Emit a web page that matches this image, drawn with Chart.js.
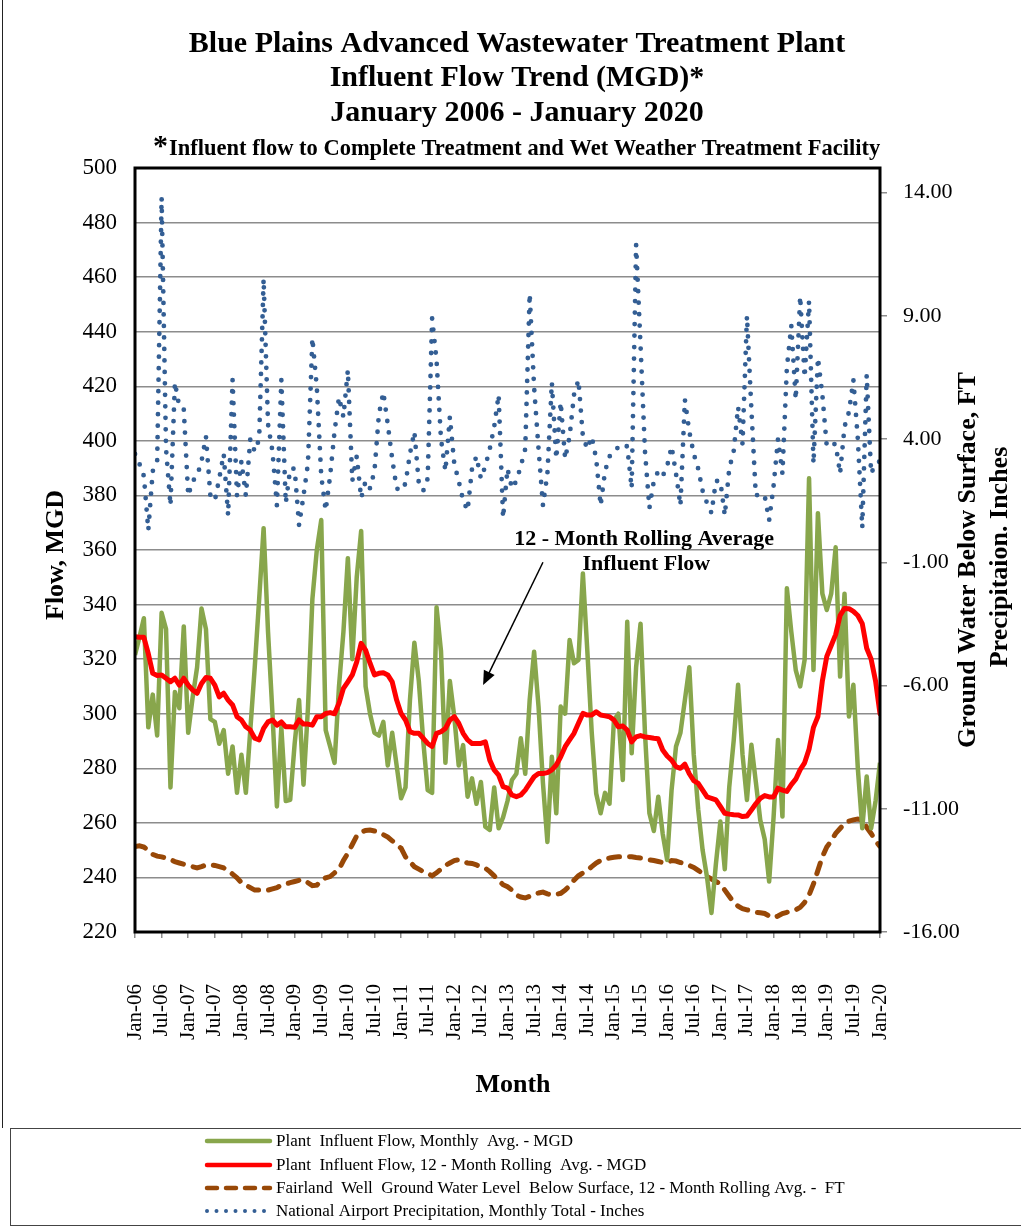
<!DOCTYPE html>
<html><head><meta charset="utf-8">
<script src="https://cdn.jsdelivr.net/npm/chart.js@4.4.1/dist/chart.umd.min.js"></script>
<style>html,body{margin:0;padding:0;background:#fff;}#wrap{width:1021px;height:1230px;}</style>
</head><body><div id="wrap"><canvas id="c" width="1021" height="1230"></canvas></div>
<script>
const xTickLabels = ['Jan-06','Jul-06','Jan-07','Jul-07','Jan-08','Jul-08','Jan-09','Jul-09','Jan-10','Jul-10','Jan-11','Jul-11','Jan-12','Jul-12','Jan-13','Jul-13','Jan-14','Jul-14','Jan-15','Jul-15','Jan-16','Jul-16','Jan-17','Jul-17','Jan-18','Jul-18','Jan-19','Jul-19','Jan-20'];
const flowTicks = [220,240,260,280,300,320,340,360,380,400,420,440,460,480,500];
const rightTicks = [-16,-11,-6,-1,4,9,14];

const flowMonthly = [321.5,328,335,295,307,292,337,331,273,308,
302,332,293,306,317,338.6,331,298,297,289,
294,278,288,271,285,271,294,317,342,368,
330,300,266,295,268,268.4,289,305,274,302,
342,360,371,294,288,282,310,330,357,320,
350,367,310,300,293,292,297,281,293,281,
269,273,305,326,312,290,272,271,339,323,
282,312,299,281,288.5,269.6,276.3,267,275,258.6,
257.4,273,258,262,268,275.7,278,291,278,305,
322.7,302.6,274.5,253,284.2,263.5,302.6,300,327,318.5,
319.7,351.4,323,293,270.8,263.5,271,267,297.7,300,
275.7,333.7,285.5,317,333,293,263.5,257,269.6,256,
246.4,272,288,293,305,317,285,265,250,240,
227,245,260.5,243,273,290,310.6,285,268.4,288.6,
275,261,254,238.5,262,290.4,262.3,346,330,316,
310,319.7,386.3,316,373.5,344,338,344,361,313.6,
344,299,310.6,280,258,277,258,268,282];

const flowRolling = [328.2,328,328,322,314.8,314,314.2,313,311.7,313,
310.5,313,310.5,308.7,307.5,311.1,313.3,313,310.5,306.2,
307.5,305,303.2,298.9,297.7,295.2,294,291,290.4,294.6,
297,297.7,295.8,297,295.2,295.2,295,297.7,296.2,296.2,
295.8,298.9,298.9,300.1,300.4,300,303.8,309.3,311.7,314.2,
319,325.8,323.3,318.5,314.2,314.8,315,314.2,311.7,305,
300.1,297.7,293.4,292.8,292.8,291,289.1,288,292.8,293.4,
294.6,297.7,298.9,296.5,292.8,290.4,289.1,289.1,289.1,289.7,
283,279.4,277.5,273.3,272.7,270.2,269.6,270.2,272,274.5,
276.9,278.1,278.1,278.4,279.4,281.2,284.2,287.9,290.4,292.8,
296.5,300.1,299.5,299.5,300.7,299.5,299.2,298.9,297.7,295.2,
295.5,294,289.7,291.5,292,291.5,291.3,291,290.8,286.7,
284.5,283,280.6,280,281.5,278,275.5,274.5,272,269.5,
269,268.4,266,263.5,263.2,263,262.9,262.3,262.5,264.7,
267,269,270,269.5,269.5,272.7,272,271.5,274,276,
279.5,282,287,295,299,312,321,325,329,336,
338.6,338.5,337.5,336,333,324,320,312,300];

const groundWater = [-12.53,-12.5,-12.55,-12.7,-12.85,-12.92,-12.95,-13.0,-13.05,-13.15,
-13.2,-13.25,-13.3,-13.35,-13.4,-13.35,-13.28,-13.27,-13.3,-13.35,
-13.4,-13.5,-13.65,-13.8,-14.0,-14.1,-14.2,-14.3,-14.3,-14.32,
-14.3,-14.25,-14.2,-14.1,-14.05,-14.0,-13.95,-13.9,-13.88,-14.0,
-14.12,-14.1,-13.9,-13.8,-13.75,-13.6,-13.45,-13.1,-12.8,-12.45,
-12.1,-11.95,-11.88,-11.86,-11.9,-11.95,-12.05,-12.15,-12.3,-12.45,
-12.6,-12.95,-13.15,-13.35,-13.45,-13.55,-13.62,-13.72,-13.6,-13.45,
-13.3,-13.2,-13.1,-13.07,-13.15,-13.2,-13.22,-13.28,-13.35,-13.41,
-13.55,-13.72,-13.9,-14.08,-14.16,-14.3,-14.5,-14.58,-14.62,-14.55,
-14.45,-14.42,-14.38,-14.45,-14.5,-14.47,-14.43,-14.3,-14.12,-13.9,
-13.72,-13.6,-13.5,-13.35,-13.2,-13.1,-13.02,-13.0,-12.97,-12.95,
-12.94,-12.94,-12.95,-12.98,-13.0,-13.05,-13.07,-13.1,-13.14,-13.18,
-13.2,-13.1,-13.12,-13.18,-13.22,-13.3,-13.38,-13.5,-13.62,-13.75,
-13.85,-13.95,-14.05,-14.3,-14.55,-14.8,-14.95,-15.05,-15.1,-15.15,
-15.2,-15.22,-15.25,-15.35,-15.42,-15.35,-15.25,-15.2,-15.15,-15.1,
-15.0,-14.8,-14.5,-14.05,-13.5,-12.95,-12.55,-12.3,-12.0,-11.8,
-11.6,-11.5,-11.45,-11.42,-11.45,-11.75,-12.0,-12.3,-12.53];

const precipitation = [3.4,3.0,2.5,0.3,2.7,3.1,13.8,3.6,1.3,6.3,
5.3,5.2,1.7,2.3,2.5,3.1,4.1,1.7,1.5,2.4,
3.4,0.9,6.4,1.7,3.1,1.7,4.0,3.5,4.0,10.5,
4.6,3.5,1.3,6.4,1.4,2.8,2.8,0.5,1.7,3.0,
8.1,6.1,2.5,1.1,2.5,4.3,5.7,4.9,6.8,2.3,
3.3,1.6,2.3,2.0,2.7,5.0,5.9,4.6,3.2,2.0,
1.9,2.2,3.4,4.3,2.2,1.9,2.4,8.9,7.2,4.0,
2.7,4.9,3.0,2.3,1.5,1.1,2.8,3.3,2.4,2.9,
3.6,4.5,5.8,0.8,2.8,2.0,2.3,2.9,3.6,9.9,
6.1,3.6,1.3,2.6,6.3,3.2,5.5,3.2,4.1,5.8,
6.4,4.1,3.6,4.1,3.2,1.3,2.7,3.3,3.4,3.7,
3.8,3.7,2.0,11.9,7.8,3.5,1.2,2.3,2.7,2.5,
2.9,3.7,2.6,1.3,5.6,4.3,3.4,2.8,1.9,1.4,
1.0,2.3,2.3,0.9,2.8,3.5,5.3,3.8,9.0,5.2,
1.7,1.8,1.7,0.7,2.1,4.0,2.6,6.9,8.6,5.6,
9.8,6.5,9.6,3.0,7.3,5.8,3.7,3.8,3.8,2.6,
4.5,5.1,6.4,4.0,0.4,6.6,2.6,3.0,3.1];

const legendLabels = [
 'Plant  Influent Flow, Monthly  Avg. - MGD',
 'Plant  Influent Flow, 12 - Month Rolling  Avg. - MGD',
 'Fairland  Well  Ground Water Level  Below Surface, 12 - Month Rolling Avg. -  FT',
 'National Airport Precipitation, Monthly Total - Inches'];

const SERIF = '"Liberation Serif","Times New Roman",serif';
const COL_GREEN = '#88A64C', COL_RED = '#FF0000', COL_BROWN = '#984807', COL_BLUE = '#335E94';
const pts = arr => arr.map((v,i)=>({x:i,y:v}));

const annotation = {lines:['12 - Month Rolling Average','Influent Flow'], months:[114.8,115.3], values:[364.1,354.9],
  arrowFrom:{month:92,value:355.5}, arrowTo:{month:78.5,value:310.5}};

const overlay = {
 id:'overlay',
 afterDraw(chart){
  const ctx = chart.ctx, a = chart.chartArea, xs = chart.scales.x, ys = chart.scales.y;
  ctx.save();
  ctx.strokeStyle = '#000'; ctx.lineWidth = 3;
  ctx.strokeRect(a.left, a.top, a.right-a.left, a.bottom-a.top);
  ctx.lineWidth = 1; ctx.strokeStyle = '#222';
  ctx.beginPath(); ctx.moveTo(2.5,0); ctx.lineTo(2.5,1128); ctx.stroke();
  ctx.fillStyle = '#000'; ctx.textAlign = 'center'; ctx.textBaseline = 'middle';
  ctx.font = 'bold 30px '+SERIF;
  ctx.fillText('Blue Plains Advanced Wastewater Treatment Plant', 517, 44);
  ctx.fillText('Influent Flow Trend (MGD)*', 517, 78);
  ctx.fillText('January 2006 - January 2020', 517, 113);
  ctx.textAlign = 'left';
  ctx.font = 'bold 30px '+SERIF; ctx.fillText('*', 153, 147);
  ctx.font = 'bold 22.5px '+SERIF; ctx.fillText('Influent flow to Complete Treatment and Wet Weather Treatment Facility', 169, 149);
  ctx.textAlign = 'center';
  ctx.font = 'bold 26px '+SERIF;
  ctx.fillText('Month', 513, 1085);
  ctx.save(); ctx.translate(56, 555); ctx.rotate(-Math.PI/2); ctx.fillText('Flow, MGD', 0, 0); ctx.restore();
  ctx.save(); ctx.translate(968, 560); ctx.rotate(-Math.PI/2); ctx.fillText('Ground Water Below Surface, FT', 0, 0); ctx.restore();
  ctx.save(); ctx.translate(1000, 557); ctx.rotate(-Math.PI/2); ctx.fillText('Precipitaion. Inches', 0, 0); ctx.restore();
  ctx.font = 'bold 22px '+SERIF;
  annotation.lines.forEach((t,k)=>ctx.fillText(t, xs.getPixelForValue(annotation.months[k]), ys.getPixelForValue(annotation.values[k])));
  const x0 = xs.getPixelForValue(annotation.arrowFrom.month), y0 = ys.getPixelForValue(annotation.arrowFrom.value);
  const x1 = xs.getPixelForValue(annotation.arrowTo.month), y1 = ys.getPixelForValue(annotation.arrowTo.value);
  const ang = Math.atan2(y1-y0, x1-x0);
  ctx.strokeStyle = '#000'; ctx.lineWidth = 1.5;
  ctx.beginPath(); ctx.moveTo(x0,y0); ctx.lineTo(x1-10*Math.cos(ang), y1-10*Math.sin(ang)); ctx.stroke();
  ctx.beginPath(); ctx.moveTo(x1,y1);
  ctx.lineTo(x1-14*Math.cos(ang)+6*Math.sin(ang), y1-14*Math.sin(ang)-6*Math.cos(ang));
  ctx.lineTo(x1-14*Math.cos(ang)-6*Math.sin(ang), y1-14*Math.sin(ang)+6*Math.cos(ang));
  ctx.closePath(); ctx.fillStyle='#000'; ctx.fill();
  ctx.strokeStyle = '#444'; ctx.lineWidth = 1;
  ctx.strokeRect(10.5, 1128.5, 1015, 97);
  const order = [1,0,2,3];
  const ly = [1141,1165,1188,1211];
  ctx.textAlign = 'left'; ctx.font = '17px '+SERIF;
  order.forEach((di,k)=>{
    const ds = chart.data.datasets[di];
    ctx.save();
    ctx.strokeStyle = ds.borderColor; ctx.lineWidth = di===3 ? 4 : 4.5;
    ctx.lineCap = 'round';
    ctx.setLineDash(di===2 ? [10,9] : (di===3 ? [0,9.5] : []));
    ctx.beginPath(); ctx.moveTo(207, ly[k]); ctx.lineTo(270, ly[k]); ctx.stroke();
    ctx.restore();
    ctx.fillStyle = '#000';
    ctx.fillText(legendLabels[k], 276, ly[k]+1);
  });
  ctx.restore();
 }
};

new Chart(document.getElementById('c').getContext('2d'), {
 type:'line',
 data:{datasets:[
  {label:legendLabels[1], data:pts(flowRolling), yAxisID:'y', borderColor:COL_RED, borderWidth:5, pointRadius:0, tension:0, borderJoinStyle:'round', borderCapStyle:'round'},
  {label:legendLabels[0], data:pts(flowMonthly), yAxisID:'y', borderColor:COL_GREEN, borderWidth:4.5, pointRadius:0, tension:0, borderJoinStyle:'round'},
  {label:legendLabels[2], data:pts(groundWater), yAxisID:'y2', borderColor:COL_BROWN, borderWidth:5, pointRadius:0, tension:0, borderDash:[11,10], borderCapStyle:'round'},
  {label:legendLabels[3], data:pts(precipitation), yAxisID:'y2', borderColor:COL_BLUE, borderWidth:4.8, pointRadius:0, tension:0, borderDash:[0,11.5], borderCapStyle:'round'}
 ]},
 options:{
  responsive:false, animation:false, events:[],
  layout:{padding:{top:168,left:0,right:0,bottom:0}},
  plugins:{legend:{display:false}, title:{display:false}, tooltip:{enabled:false}},
  scales:{
   x:{type:'linear', position:'bottom', min:0, max:168,
      afterFit(s){ s.height = 298; },
      afterBuildTicks(s){ s.ticks = xTickLabels.map((t,k)=>({value:k*6})); },
      ticks:{autoSkip:false, maxRotation:90, minRotation:90, padding:46, color:'#000', font:{family:SERIF, size:21},
        callback:(v)=>xTickLabels[Math.round(v/6)]},
      grid:{drawOnChartArea:false, drawTicks:true, tickLength:6, color:'#8c8c8c', lineWidth:1.5},
      border:{display:false}},
   y:{position:'left', min:220, max:500,
      afterFit(s){ s.width = 135; },
      afterBuildTicks(s){ s.ticks = flowTicks.map(v=>({value:v})); },
      ticks:{padding:18, color:'#000', font:{family:SERIF, size:23}},
      grid:{color:'#8c8c8c', lineWidth:1.5, drawTicks:false},
      border:{display:false}},
   y2:{position:'right', min:-16, max:15,
      afterFit(s){ s.width = 141; },
      afterBuildTicks(s){ s.ticks = rightTicks.map(v=>({value:v})); },
      ticks:{padding:16, color:'#000', font:{family:SERIF, size:22}, callback:(v)=>v.toFixed(2)},
      grid:{drawOnChartArea:false, drawTicks:true, tickLength:7, color:'#8c8c8c', lineWidth:1.5},
      border:{display:false}}
  }
 },
 plugins:[overlay]
});
</script></body></html>
